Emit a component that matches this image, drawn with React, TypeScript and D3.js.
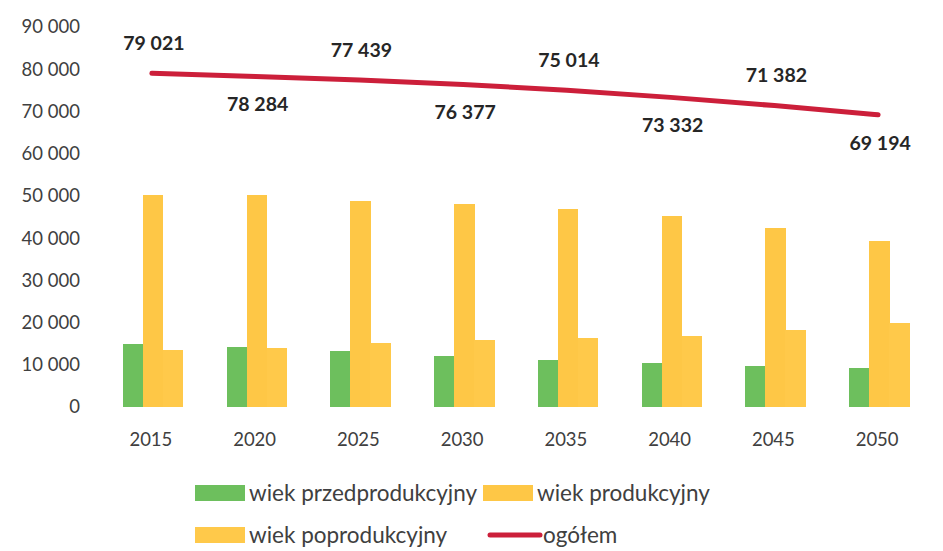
import React, { useRef, useEffect } from 'react';
import * as d3 from 'd3';

const years = ['2015', '2020', '2025', '2030', '2035', '2040', '2045', '2050'];
const przedprodukcyjny = [15000, 14200, 13300, 12100, 11100, 10400, 9700, 9300];
const produkcyjny = [50200, 50100, 48700, 48000, 47000, 45200, 42400, 39200];
const poprodukcyjny = [13600, 13900, 15200, 15900, 16300, 16800, 18200, 19900];
const ogolem = [79021, 78284, 77439, 76377, 75014, 73332, 71382, 69194];
const yTicks = [0, 10000, 20000, 30000, 40000, 50000, 60000, 70000, 80000, 90000];

const seriesNames = ['wiek przedprodukcyjny', 'wiek produkcyjny', 'wiek poprodukcyjny'];
const seriesColors = ['#6dbf5d', '#fec746', '#ffc94a'];
const lineColor = '#cc1f3a';

const fmt = (v: number) => d3.format(',')(v).replace(/,/g, ' ');

const App: React.FC = () => {
  const svgRef = useRef<SVGSVGElement>(null);

  useEffect(() => {
    if (!svgRef.current) return;
    const svg = d3.select(svgRef.current);
    svg.selectAll('*').remove();
    const font = 'Lato, "Open Sans", sans-serif';

    const x = d3.scaleBand<string>().domain(years).range([98, 928]);
    const y = d3.scaleLinear().domain([0, 90000]).range([407, 27]);
    const inner = d3.scaleBand<number>().domain([0, 1, 2]).range([0, 60]);

    // y labels
    svg.append('g')
      .selectAll('text')
      .data(yTicks)
      .enter()
      .append('text')
      .attr('x', 80)
      .attr('y', d => y(d))
      .attr('dy', '0.35em')
      .attr('text-anchor', 'end')
      .attr('font-family', font)
      .attr('font-size', '18.5px')
      .attr('fill', '#404040')
      .text(d => fmt(d));

    // x labels
    svg.append('g')
      .selectAll('text')
      .data(years)
      .enter()
      .append('text')
      .attr('x', d => (x(d) as number) + x.bandwidth() / 2 + 1)
      .attr('y', 440)
      .attr('dy', '0.35em')
      .attr('text-anchor', 'middle')
      .attr('font-family', font)
      .attr('font-size', '18.5px')
      .attr('fill', '#404040')
      .text(d => d);

    // bars
    const allSeries = [przedprodukcyjny, produkcyjny, poprodukcyjny];
    allSeries.forEach((vals, si) => {
      svg.append('g')
        .selectAll('rect')
        .data(vals)
        .enter()
        .append('rect')
        .attr('x', (d, i) => (x(years[i]) as number) + x.bandwidth() / 2 - 27 + (inner(si) as number))
        .attr('y', d => y(d))
        .attr('width', inner.bandwidth() + 0.5)
        .attr('height', d => y(0) - y(d))
        .attr('fill', seriesColors[si])
        .attr('shape-rendering', 'crispEdges');
    });

    // total line
    const line = d3.line<number>()
      .x((d, i) => (x(years[i]) as number) + x.bandwidth() / 2 + 2)
      .y(d => y(d))
      .curve(d3.curveMonotoneX);

    svg.append('path')
      .datum(ogolem)
      .attr('d', line)
      .attr('fill', 'none')
      .attr('stroke', lineColor)
      .attr('stroke-width', 5)
      .attr('stroke-linecap', 'round');

    // total labels, alternating above/below
    svg.append('g')
      .selectAll('text')
      .data(ogolem)
      .enter()
      .append('text')
      .attr('x', (d, i) => (x(years[i]) as number) + x.bandwidth() / 2 + 4)
      .attr('y', (d, i) => y(d) + (i % 2 === 0 ? -30 : 28))
      .attr('dy', '0.35em')
      .attr('text-anchor', 'middle')
      .attr('font-family', font)
      .attr('font-size', '19.5px')
      .attr('font-weight', 'bold')
      .attr('fill', '#262626')
      .text(d => fmt(d));

    // legend
    const legend = [
      { label: seriesNames[0], color: seriesColors[0], x: 195, y: 493, type: 'rect' },
      { label: seriesNames[1], color: seriesColors[1], x: 483, y: 493, type: 'rect' },
      { label: seriesNames[2], color: seriesColors[2], x: 195, y: 535, type: 'rect' },
      { label: 'ogółem', color: lineColor, x: 490, y: 535, type: 'line' },
    ];
    const lg = svg.append('g');
    legend.forEach(l => {
      if (l.type === 'rect') {
        lg.append('rect')
          .attr('x', l.x)
          .attr('y', l.y - 8)
          .attr('width', 50)
          .attr('height', 16)
          .attr('fill', l.color);
      } else {
        lg.append('line')
          .attr('x1', l.x)
          .attr('x2', l.x + 50)
          .attr('y1', l.y)
          .attr('y2', l.y)
          .attr('stroke', l.color)
          .attr('stroke-width', 5)
          .attr('stroke-linecap', 'round');
      }
      lg.append('text')
        .attr('x', l.x + (l.type === 'rect' ? 54 : 53))
        .attr('y', l.y)
        .attr('dy', '0.35em')
        .attr('font-family', font)
        .attr('font-size', '22.5px')
        .attr('fill', '#404040')
        .text(l.label);
    });
  }, []);

  return (
    <svg
      ref={svgRef}
      width={943}
      height={551}
      style={{ position: 'absolute', left: 0, top: 0, background: '#fff', display: 'block' }}
    />
  );
};

export default App;
